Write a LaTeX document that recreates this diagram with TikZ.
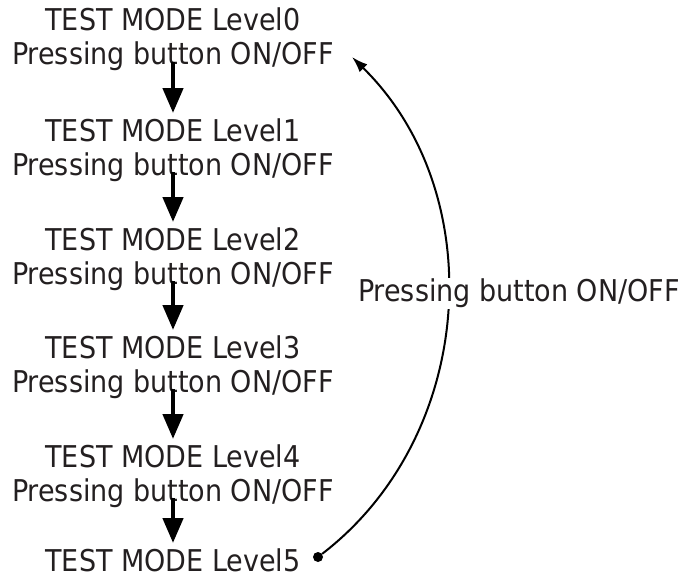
\documentclass[tikz,border=0pt]{standalone}
\usepackage{fontspec}
\setmainfont{DejaVu Sans Condensed}
\usepackage{xcolor}
\usepackage{tikz}
\usetikzlibrary{arrows.meta,positioning}
\definecolor{Ink}{HTML}{231F20}

\begin{document}
\begin{tikzpicture}[x=1pt,y=1pt,
  level/.style={align=center,inner sep=0pt,anchor=base,font=\fontsize{30}{34}\selectfont,text=Ink},
  down/.style={-{Triangle[length=25pt,width=20pt]},line width=4.5pt,shorten <=-9pt,shorten >=5pt},
  back/.style={-{Latex[length=16pt,width=11pt]},line width=2pt},
  lbl/.style={font=\fontsize{30}{34}\selectfont,text=Ink,fill=white,inner sep=1pt}]
\useasboundingbox (0,0) rectangle (683,-578);
\node[level] (lvl0) at (173,-65) {TEST MODE Level0\\Pressing button ON/OFF};
\node[level] (lvl1) at (173,-175) {TEST MODE Level1\\Pressing button ON/OFF};
\node[level] (lvl2) at (173,-284) {TEST MODE Level2\\Pressing button ON/OFF};
\node[level] (lvl3) at (173,-392) {TEST MODE Level3\\Pressing button ON/OFF};
\node[level] (lvl4) at (173,-501) {TEST MODE Level4\\Pressing button ON/OFF};
\node[level] (lvl5) at (173,-571) {TEST MODE Level5};
\node[circle,fill=black,inner sep=0pt,minimum size=10pt] (dot) at (318,-557) {};
\coordinate (top) at (352,-57);
\draw[down] (lvl0.south) -- (lvl1.north);
\draw[down] (lvl1.south) -- (lvl2.north);
\draw[down] (lvl2.south) -- (lvl3.north);
\draw[down] (lvl3.south) -- (lvl4.north);
\draw[down] (lvl4.south) -- (lvl5.north);
\draw[back] (dot) to[bend right=49] node[lbl,midway,xshift=72pt,yshift=19pt]{Pressing button ON/OFF} (top);
\end{tikzpicture}
\end{document}
